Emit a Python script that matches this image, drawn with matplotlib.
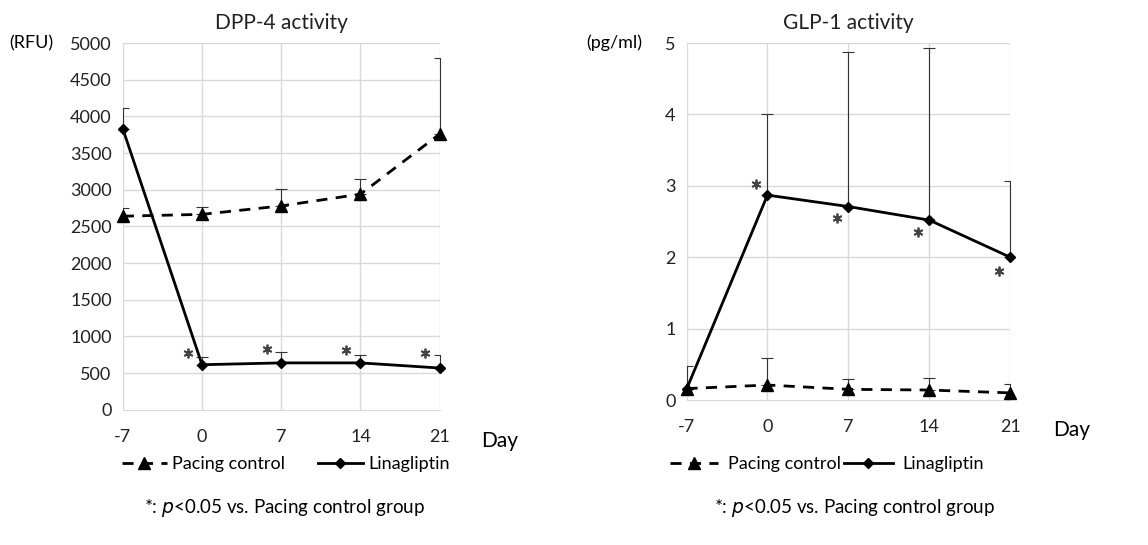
import numpy as np
import matplotlib.pyplot as plt
from matplotlib.lines import Line2D

plt.rcParams['font.family'] = ['Lato', 'DejaVu Sans']

days = [-7, 0, 7, 14, 21]
day_labels = ['-7', '0', '7', '14', '21']

# DPP-4 activity (RFU)
dpp_pacing = [2640, 2665, 2780, 2940, 3760]
dpp_pacing_err = [110, 100, 235, 205, 1035]
dpp_lina = [3830, 615, 640, 640, 570]
dpp_lina_err = [280, 100, 145, 105, 175]
dpp_star_y = [770, 830, 815, 770]

# GLP-1 activity (pg/ml)
glp_pacing = [0.16, 0.21, 0.15, 0.14, 0.10]
glp_pacing_err = [0.31, 0.38, 0.14, 0.17, 0.12]
glp_lina = [0.15, 2.87, 2.71, 2.52, 2.00]
glp_lina_err = [0.0, 1.14, 2.16, 2.41, 1.07]
glp_star_y = [3.03, 2.55, 2.35, 1.81]

fig = plt.figure(figsize=(11.48, 5.45), dpi=100)


def draw(ax, pac, pac_err, lina, lina_err, star_y, ymax, ystep, title, unit, unit_x, star_dx):
    x = np.arange(len(days))
    for xi in x:
        ax.axvline(xi, color='#d9d9d9', lw=1, zorder=0)
    for yv in np.arange(ystep, ymax + ystep / 2, ystep):
        ax.axhline(yv, color='#d9d9d9', lw=1, zorder=0)
    for vals, errs in [(pac, pac_err), (lina, lina_err)]:
        eb = ax.errorbar(x, vals, yerr=[np.zeros(len(vals)), errs], fmt='none', ecolor='#333333',
                         elinewidth=0.8, capsize=4, capthick=0.8, zorder=1)
        for art in eb.lines[2]:
            art.set_clip_on(False)
    ax.plot(x, pac, color='black', lw=2, ls=(0, (4, 3)), marker='^', ms=8, zorder=3, clip_on=False)
    ax.plot(x, lina, color='black', lw=2, marker='D', ms=5, zorder=3, clip_on=False)
    ax.plot(x[1:] + star_dx, star_y, ls='none', marker=(6, 2, 0), ms=7, mew=1.3,
            color='#444444', zorder=2)
    ax.set_xlim(0, len(days) - 1)
    ax.set_ylim(0, ymax)
    ax.set_xticks(x)
    ax.set_xticklabels(day_labels)
    ax.set_yticks(np.arange(0, ymax + ystep / 2, ystep))
    ax.tick_params(length=0, labelsize=13, colors='#222222', pad=8)
    ax.tick_params(axis='x', pad=14)
    for s in ['top', 'right', 'left']:
        ax.spines[s].set_visible(False)
    ax.spines['bottom'].set_color('#d9d9d9')
    ax.set_title(title, fontsize=15, pad=10, color='#222222')
    ax.text(unit_x, 1.0, unit, transform=ax.transAxes, ha='right', va='center', fontsize=13)
    ax.text(1.19, -0.085, 'Day', transform=ax.transAxes, ha='center', va='center', fontsize=15)


ax1 = fig.add_axes([0.107, 0.248, 0.276, 0.673])
draw(ax1, dpp_pacing, dpp_pacing_err, dpp_lina, dpp_lina_err, dpp_star_y, 5000, 500,
     'DPP-4 activity', '(RFU)', -0.22, -0.18)
ax1.set_yticklabels([str(v) for v in range(0, 5001, 500)])

ax2 = fig.add_axes([0.598, 0.266, 0.282, 0.655])
draw(ax2, glp_pacing, glp_pacing_err, glp_lina, glp_lina_err, glp_star_y, 5, 1,
     'GLP-1 activity', '(pg/ml)', -0.136, -0.14)

handles = [Line2D([], [], color='black', lw=2, ls=(0, (4, 3)), marker='^', ms=8),
           Line2D([], [], color='black', lw=2, marker='D', ms=5)]
labels = ['Pacing control', 'Linagliptin']
fig.legend(handles, labels, loc='center', bbox_to_anchor=(0.249, 0.148), ncol=2,
           frameon=False, fontsize=13, handlelength=2.5, handletextpad=0.3, columnspacing=1.8)
fig.legend(handles, labels, loc='center', bbox_to_anchor=(0.72, 0.148), ncol=2,
           frameon=False, fontsize=13, handlelength=2.7, handletextpad=0.5, columnspacing=0.2)

fig.text(0.248, 0.068, '*: $\\it{p}$<0.05 vs. Pacing control group', ha='center', va='center', fontsize=13.5)
fig.text(0.744, 0.068, '*: $\\it{p}$<0.05 vs. Pacing control group', ha='center', va='center', fontsize=13.5)

fig.savefig('out.png', dpi=100)
